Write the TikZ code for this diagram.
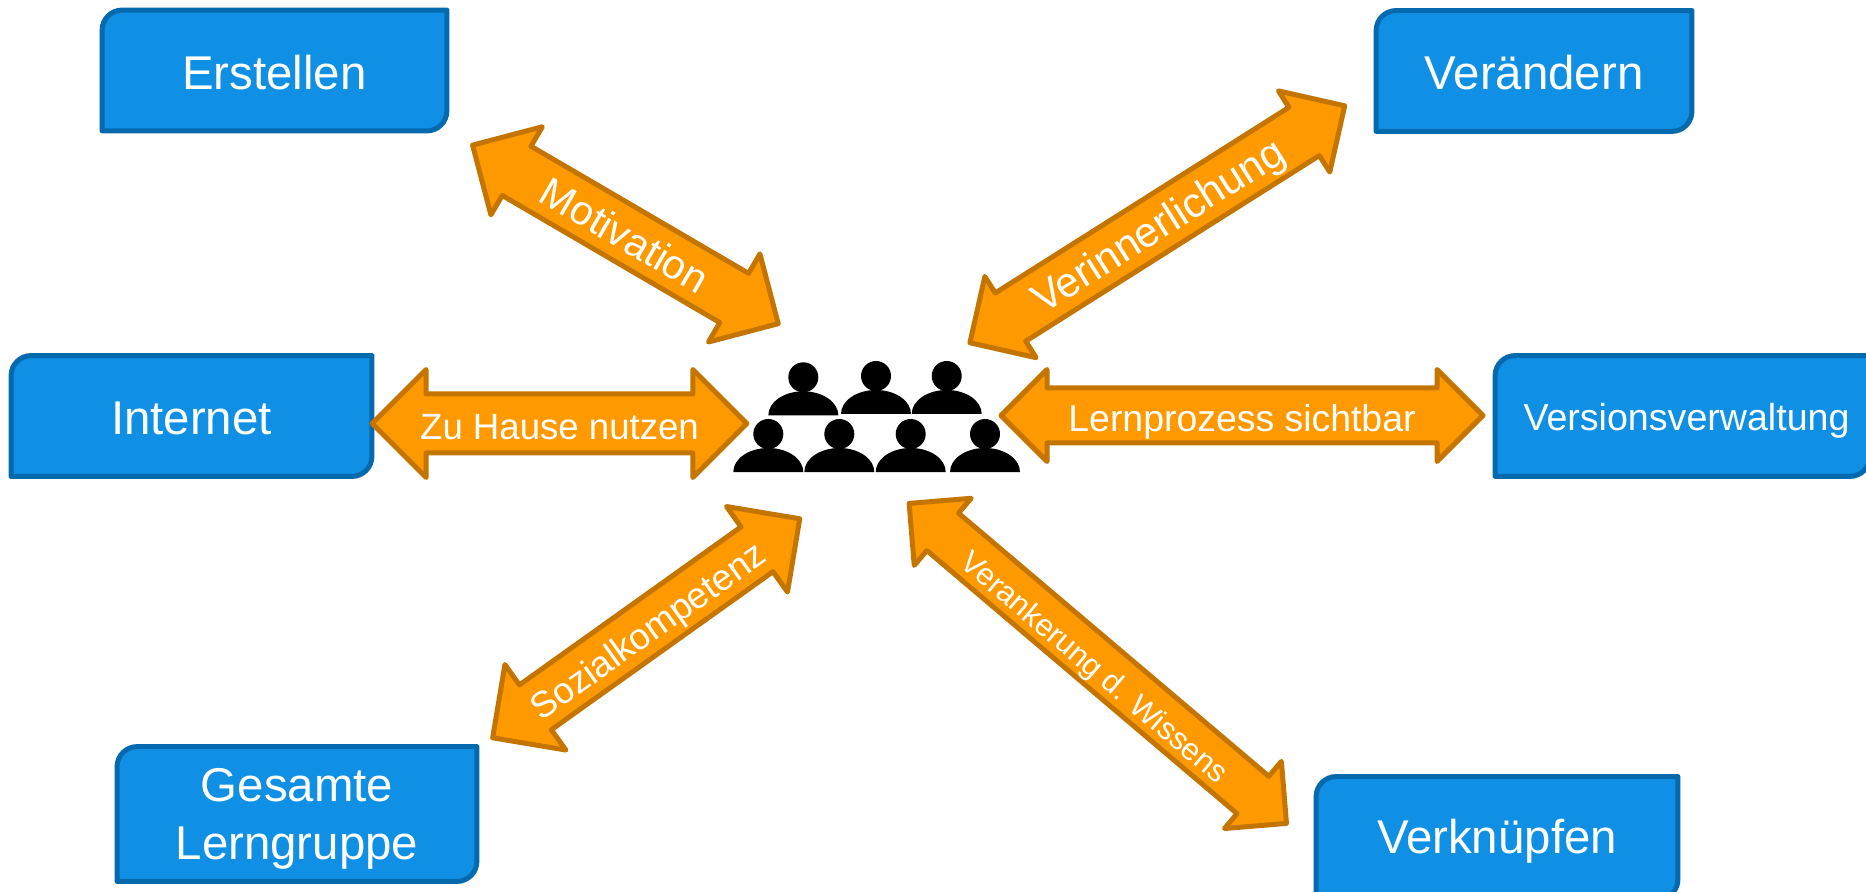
\documentclass[tikz,border=0pt]{standalone}
\usepackage{fontspec}
\setmainfont{Liberation Sans}
\usetikzlibrary{shapes, shapes.arrows, backgrounds}

\definecolor{boxblue}{HTML}{0F90E4}
\definecolor{boxline}{HTML}{0569AD}
\definecolor{arroworange}{HTML}{FF9900}
\definecolor{arrowline}{HTML}{C47500}

\tikzset{
  lernbox/.style={text=white, align=center, inner sep=0pt, font=\fontsize{23.7}{29}\selectfont},
  pfeil/.style 2 args={double arrow, fill=arroworange, draw=arrowline, line width=2.5pt, line join=round,
    text=white, inner xsep=0pt, inner ysep={0.25*#1*1pt-7.75pt}, text height=15.5pt, text depth=0pt,
    double arrow head extend={0.25*(#2-#1)*1pt}},
  person/.pic={
    \fill (0,0) circle[radius=15];
    \fill (-35,38) arc[start angle=180, end angle=360, x radius=35, y radius=24] -- cycle;
  }
}

\begin{document}
\begin{tikzpicture}[x=0.5pt, y=-0.5pt]
\useasboundingbox (0,0) rectangle (1866,892);

\node[lernbox, minimum width=172pt, minimum height=60pt, text height=19pt, text depth=0pt] (erstellen) at (274.5,70.5) {Erstellen};
\node[lernbox, minimum width=157.5pt, minimum height=60pt, text height=19pt, text depth=0pt] (veraendern) at (1534,71) {Verändern};
\node[lernbox, minimum width=180pt, minimum height=60pt, text height=19pt, text depth=0pt] (internet) at (191.5,416) {Internet};
\node[lernbox, minimum width=187pt, minimum height=60pt, text height=14.8pt, text depth=0pt, font=\fontsize{18.8}{24}\selectfont] (versionen) at (1682.5,416) {\hspace*{4pt}Versionsverwaltung};
\node[lernbox, minimum width=179.5pt, minimum height=67pt] (lerngruppe) at (297,814) {\rule{0pt}{21pt}Gesamte\\Lerngruppe};
\node[lernbox, minimum width=180.5pt, minimum height=61pt, text height=15.6pt, text depth=0pt] (verknuepfen) at (1497,838) {Verknüpfen};

\begin{scope}[on background layer]
  \foreach \boxname in {erstellen, veraendern, internet, versionen, lerngruppe, verknuepfen}
    \draw[fill=boxblue, draw=boxline, line width=2.5pt, line join=round]
      (\boxname.south west) [rounded corners=10pt] -- (\boxname.north west) [sharp corners] -- (\boxname.north east)
      [rounded corners=10pt] -- (\boxname.south east) [sharp corners] -- cycle;
\end{scope}

\node[pfeil={52}{97}, minimum height=177pt, rotate=-30.3, font=\fontsize{20.5}{25}\selectfont] (motivation) at (625.4,234.4) {Motivation};
\node[pfeil={52}{91}, minimum height=221.7pt, rotate=32.3, font=\fontsize{21}{25}\selectfont] (verinnerlichung) at (1157.3,224.3) {Verinnerlichung};
\node[pfeil={54}{103}, minimum height=187.4pt, font=\fontsize{18.3}{22}\selectfont] (zuhause) at (559.5,423.5) {Zu Hause nutzen};
\node[pfeil={50}{87}, minimum height=241pt, font=\fontsize{18.7}{22}\selectfont] (lernprozess) at (1242,415.5) {Lernprozess sichtbar};
\node[pfeil={50}{100}, minimum height=188.6pt, rotate=35.5, font=\fontsize{18.3}{22}\selectfont] (sozial) at (646.2,628.3) {Sozialkompetenz};
\node[pfeil={44}{83}, minimum height=247.4pt, rotate=-40.3, font=\fontsize{15.5}{19}\selectfont] (verankerung) at (1097.8,663.4) {Verankerung d. Wissens};

% lerngruppe in der mitte
\foreach \px/\py in {803.3/377.3, 876/376, 946.7/376, 768.3/434, 839.3/434, 910.7/434, 985/434}
  \pic at (\px,\py) {person};

\end{tikzpicture}
\end{document}
